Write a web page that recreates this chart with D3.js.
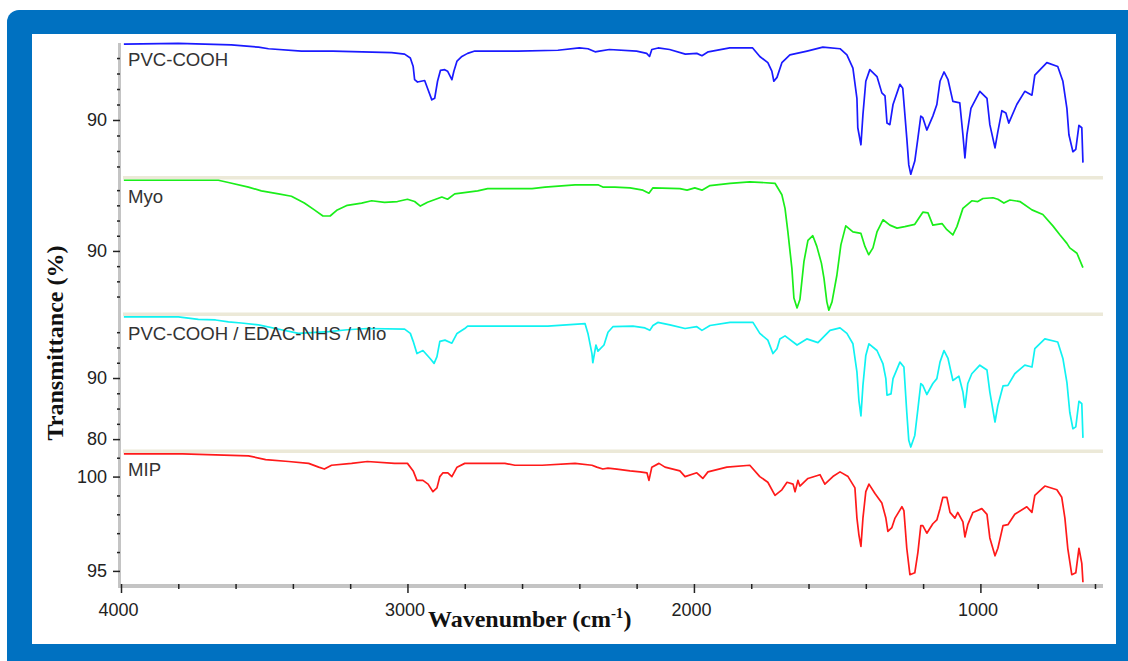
<!DOCTYPE html>
<html>
<head>
<meta charset="utf-8">
<script src="https://cdn.jsdelivr.net/npm/d3@7"></script>
<style>
  body { margin: 0; background: #fff; }
  svg { display: block; }
  .lbl { font-family: "Liberation Sans", Arial, sans-serif; font-size: 18.6px; fill: #333; }
  .tick text { font-family: "Liberation Sans", Arial, sans-serif; font-size: 18px; fill: #222; }
  .tick line { stroke: #222; stroke-width: 1.5; }
  .domain { display: none; }
  .title { font-family: "Liberation Serif", "Times New Roman", serif; font-weight: bold; font-size: 24px; fill: #111; }
</style>
</head>
<body>
<div id="chart"></div>
<script>
// Spectra: [wavenumber (cm-1), transmittance (%)]
const pvcCooh = [[3990,99.8],[3800,99.9],[3615,99.7],[3520,99.4],[3485,99.2],[3370,98.9],[3260,98.9],[3055,98.7],[3010,98.5],[2990,98.0],[2980,96.9],[2975,95.2],[2965,94.9],[2940,95.1],[2930,94.1],[2915,92.6],[2905,92.8],[2895,95.0],[2885,96.4],[2870,96.5],[2860,96.3],[2845,95.2],[2838,96.3],[2827,97.6],[2810,98.2],[2790,98.6],[2765,98.9],[2615,98.9],[2475,99.0],[2400,99.3],[2370,99.2],[2345,98.8],[2330,98.9],[2295,99.1],[2200,98.9],[2165,98.6],[2155,98.2],[2147,99.1],[2125,99.3],[2085,99.1],[2030,98.5],[1990,98.6],[1972,98.3],[1950,98.8],[1875,99.3],[1795,99.3],[1770,98.2],[1742,97.4],[1728,96.3],[1721,95.0],[1710,95.5],[1693,97.4],[1665,98.4],[1605,98.9],[1550,99.4],[1490,99.2],[1466,98.4],[1445,96.7],[1431,92.8],[1428,89.0],[1417,86.8],[1410,90.7],[1400,95.0],[1386,96.5],[1361,95.6],[1344,93.5],[1333,93.1],[1326,89.6],[1316,89.4],[1305,92.0],[1281,94.6],[1271,94.1],[1257,87.7],[1250,84.2],[1243,83.0],[1229,84.7],[1218,87.7],[1208,90.5],[1201,90.3],[1187,88.7],[1166,90.5],[1152,92.0],[1141,95.0],[1127,96.2],[1113,95.2],[1096,92.4],[1072,92.2],[1061,88.1],[1054,85.1],[1047,88.1],[1033,91.5],[1002,93.7],[977,92.8],[967,89.4],[949,86.4],[939,88.5],[925,91.2],[911,90.9],[901,89.6],[873,92.0],[845,93.7],[820,93.2],[810,95.8],[768,97.4],[730,96.9],[712,95.0],[698,91.5],[691,88.1],[677,85.9],[667,86.2],[656,89.3],[646,89.0],[642,84.5]];

const myo = [[3990,99.3],[3660,99.3],[3625,99.0],[3555,98.4],[3510,97.9],[3450,97.5],[3405,97.2],[3360,96.3],[3325,95.4],[3295,94.6],[3270,94.6],[3245,95.4],[3210,96.0],[3160,96.3],[3125,96.6],[3080,96.4],[3035,96.5],[3000,96.8],[2975,96.5],[2955,95.9],[2930,96.4],[2880,97.1],[2860,96.8],[2835,97.5],[2755,97.9],[2720,98.2],[2565,98.2],[2520,98.4],[2415,98.7],[2335,98.7],[2318,98.4],[2276,98.4],[2223,98.3],[2178,98.0],[2157,97.6],[2143,98.3],[2049,98.2],[2024,98.0],[1997,98.3],[1972,98.0],[1944,98.6],[1874,98.9],[1805,99.1],[1717,98.9],[1693,97.4],[1682,95.6],[1672,92.5],[1658,87.7],[1651,83.8],[1640,82.5],[1630,83.6],[1616,88.6],[1602,91.4],[1585,92.0],[1571,90.6],[1555,88.4],[1546,86.4],[1536,83.3],[1529,82.2],[1518,83.3],[1501,86.8],[1487,90.8],[1470,93.3],[1445,92.5],[1417,92.3],[1403,90.6],[1390,89.5],[1375,90.4],[1361,92.5],[1340,94.1],[1316,93.4],[1291,93.0],[1264,93.2],[1229,93.5],[1201,95.1],[1183,95.0],[1166,93.4],[1134,93.6],[1117,92.8],[1096,92.1],[1082,93.2],[1061,95.6],[1030,96.6],[1009,96.5],[991,96.9],[956,97.0],[939,96.8],[918,96.3],[897,96.7],[862,96.5],[820,95.4],[782,94.8],[747,93.3],[722,92.1],[698,91.0],[688,90.4],[663,89.7],[642,87.8]];

const pvcEdacMio = [[3990,100.0],[3800,100.0],[3730,99.6],[3670,99.5],[3625,99.2],[3580,99.0],[3520,98.7],[3440,97.9],[3380,97.3],[3275,97.6],[3210,97.9],[3140,98.1],[3010,98.0],[2990,97.3],[2980,96.0],[2967,94.0],[2946,94.5],[2921,93.2],[2907,92.4],[2897,93.5],[2887,96.0],[2869,96.2],[2845,95.7],[2827,97.3],[2800,98.1],[2790,98.5],[2510,98.5],[2380,98.9],[2370,97.3],[2356,94.0],[2353,92.5],[2342,95.4],[2335,94.4],[2314,95.4],[2300,97.5],[2283,98.4],[2213,98.5],[2171,98.2],[2154,97.8],[2143,98.6],[2126,99.1],[2084,98.7],[2031,98.1],[1990,98.4],[1972,97.8],[1944,98.6],[1874,99.1],[1794,99.1],[1770,97.3],[1742,96.2],[1724,94.0],[1710,94.8],[1700,96.4],[1682,96.9],[1640,95.4],[1606,96.4],[1567,95.8],[1525,97.8],[1490,98.2],[1466,97.3],[1445,95.6],[1431,91.0],[1424,86.3],[1417,83.8],[1410,88.8],[1400,93.7],[1389,95.6],[1361,94.5],[1340,92.3],[1330,89.9],[1326,87.2],[1312,87.4],[1305,89.9],[1281,92.6],[1267,91.8],[1257,84.4],[1250,79.8],[1243,78.7],[1229,80.6],[1218,85.0],[1208,89.1],[1201,88.8],[1187,87.3],[1166,89.1],[1152,89.9],[1141,92.6],[1127,94.5],[1113,93.2],[1096,89.6],[1075,90.3],[1061,87.7],[1054,85.2],[1044,89.1],[1030,90.7],[1002,92.1],[977,91.3],[967,87.7],[949,82.8],[939,85.5],[921,88.7],[904,88.8],[880,90.7],[845,92.1],[820,91.8],[810,94.8],[775,96.4],[730,95.9],[712,93.2],[698,89.3],[688,84.4],[677,81.7],[667,82.0],[656,86.2],[646,85.8],[642,80.2]];

const mip = [[3990,101.2],[3785,101.2],[3670,101.15],[3555,101.1],[3495,100.9],[3415,100.8],[3345,100.7],[3310,100.5],[3290,100.4],[3265,100.6],[3195,100.7],[3140,100.8],[3045,100.7],[3000,100.7],[2980,100.3],[2967,99.8],[2946,99.8],[2928,99.6],[2911,99.2],[2897,99.4],[2887,100.0],[2876,100.2],[2859,100.2],[2845,100.0],[2827,100.5],[2800,100.7],[2660,100.7],[2625,100.6],[2530,100.6],[2415,100.7],[2356,100.6],[2339,100.5],[2318,100.4],[2300,100.45],[2269,100.4],[2223,100.3],[2188,100.25],[2164,100.2],[2157,99.8],[2147,100.5],[2122,100.7],[2101,100.5],[2049,100.3],[2031,100.0],[1990,100.2],[1969,99.9],[1951,100.25],[1885,100.5],[1805,100.6],[1770,100.0],[1742,99.7],[1717,99.0],[1693,99.3],[1675,99.7],[1654,99.6],[1647,99.2],[1637,99.8],[1630,99.5],[1602,99.9],[1560,100.1],[1543,99.6],[1515,100.0],[1490,100.25],[1462,100.0],[1438,99.4],[1431,97.8],[1424,96.9],[1417,96.3],[1410,97.8],[1400,99.2],[1389,99.6],[1368,99.1],[1344,98.6],[1330,97.8],[1323,97.1],[1309,97.3],[1298,97.8],[1274,98.4],[1267,98.2],[1257,96.2],[1246,94.8],[1229,94.9],[1218,96.0],[1208,97.4],[1201,97.4],[1187,97.0],[1166,97.5],[1152,97.7],[1141,98.3],[1131,98.9],[1117,98.9],[1106,98.1],[1089,97.8],[1079,98.1],[1061,97.6],[1054,96.8],[1044,97.45],[1026,98.1],[995,98.3],[977,98.0],[967,96.75],[949,95.8],[939,96.2],[921,97.4],[904,97.45],[880,98.0],[838,98.4],[820,98.1],[810,99.0],[775,99.5],[733,99.3],[716,98.9],[705,97.8],[695,96.2],[681,94.8],[667,94.9],[656,96.2],[646,95.4],[642,94.4]];

const seriesNames = ["PVC-COOH", "Myo", "PVC-COOH / EDAC-NHS / Mio", "MIP"];
const seriesData = [pvcCooh, myo, pvcEdacMio, mip];
const seriesColors = ["#1a1aff", "#1aee1a", "#10f2f2", "#ff1a1a"];

// y range of each stacked panel and its ticks
const yDomains = [[82.77, 99.81], [81.9, 99.4], [78.3, 100.15], [94.2, 101.25]];
const yMajorTicks = [[90], [90], [80, 90], [95, 100]];
const yMinorTicks = [
  [84, 86, 88, 92, 94, 96, 98],
  [84, 86, 88, 92, 94, 96, 98],
  [82.5, 85, 87.5, 92.5, 95, 97.5],
  [96, 97, 98, 99, 101]
];

const xMajorTicks = [4000, 3000, 2000, 1000];
const xMinorTicks = [3800, 3600, 3400, 3200, 2800, 2600, 2400, 2200, 1800, 1600, 1400, 1200, 800, 600];

const W = 1128, H = 661;
const panelTops = [44, 179.5, 316, 453];
const panelBottoms = [176, 312.5, 449.5, 586];
const labelBaselines = [66, 203, 340, 476];

const svg = d3.select("#chart").append("svg")
  .attr("width", W)
  .attr("height", H);

// blue frame + white panel
svg.append("rect")
  .attr("x", 7).attr("y", 10)
  .attr("width", 1140).attr("height", 670)
  .attr("rx", 12)
  .attr("fill", "#0071c1");
svg.append("rect")
  .attr("x", 32).attr("y", 34)
  .attr("width", 1084).attr("height", 610)
  .attr("fill", "#fff");

// X scale
const x = d3.scaleLinear()
  .domain([4000, 572])
  .range([121, 1103]);

// separators between panels
svg.selectAll(".sep")
  .data(panelBottoms.slice(0, 3))
  .enter()
  .append("rect")
  .attr("class", "sep")
  .attr("x", 123)
  .attr("y", d => d)
  .attr("width", 1103 - 123)
  .attr("height", 3.5)
  .attr("fill", "#ece9d8");

// gray axis lines
svg.append("line")
  .attr("x1", 119.5).attr("x2", 119.5)
  .attr("y1", 43).attr("y2", 588)
  .attr("stroke", "#c4c4c4").attr("stroke-width", 3);
svg.append("line")
  .attr("x1", 118).attr("x2", 1103)
  .attr("y1", 586).attr("y2", 586)
  .attr("stroke", "#c4c4c4").attr("stroke-width", 4);

// each panel
seriesData.forEach((data, i) => {
  const y = d3.scaleLinear()
    .domain(yDomains[i])
    .range([panelBottoms[i], panelTops[i]]);

  svg.append("g")
    .attr("transform", "translate(120,0)")
    .call(d3.axisLeft(y).tickValues(yMinorTicks[i]).tickSize(3).tickFormat(""));

  svg.append("g")
    .attr("transform", "translate(120,0)")
    .call(d3.axisLeft(y).tickValues(yMajorTicks[i]).tickSize(7).tickPadding(6).tickFormat(d3.format("d")));

  const line = d3.line()
    .x(d => x(d[0]))
    .y(d => y(d[1]));

  svg.append("path")
    .datum(data)
    .attr("fill", "none")
    .attr("stroke", seriesColors[i])
    .attr("stroke-width", 1.7)
    .attr("stroke-linejoin", "round")
    .attr("d", line);

  svg.append("text")
    .attr("class", "lbl")
    .attr("x", 128)
    .attr("y", labelBaselines[i])
    .text(seriesNames[i]);
});

// X axis
svg.append("g")
  .attr("transform", "translate(0,584)")
  .call(d3.axisBottom(x).tickValues(xMinorTicks).tickSize(5).tickFormat(""));
svg.append("g")
  .attr("transform", "translate(0,584)")
  .call(d3.axisBottom(x).tickValues(xMajorTicks).tickSize(9).tickPadding(10).tickFormat(d3.format("d")))
  .selectAll("text")
  .attr("dx", -3);

// Axis titles
svg.append("text")
  .attr("class", "title")
  .attr("transform", "translate(63,343) rotate(-90)")
  .attr("text-anchor", "middle")
  .text("Transmittance (%)");

const xt = svg.append("text")
  .attr("class", "title")
  .attr("x", 428)
  .attr("y", 627);
xt.append("tspan").text("Wavenumber (cm");
xt.append("tspan").attr("font-size", "15px").attr("dy", -9).text("-1");
xt.append("tspan").attr("dy", 9).text(")");
</script>
</body>
</html>
